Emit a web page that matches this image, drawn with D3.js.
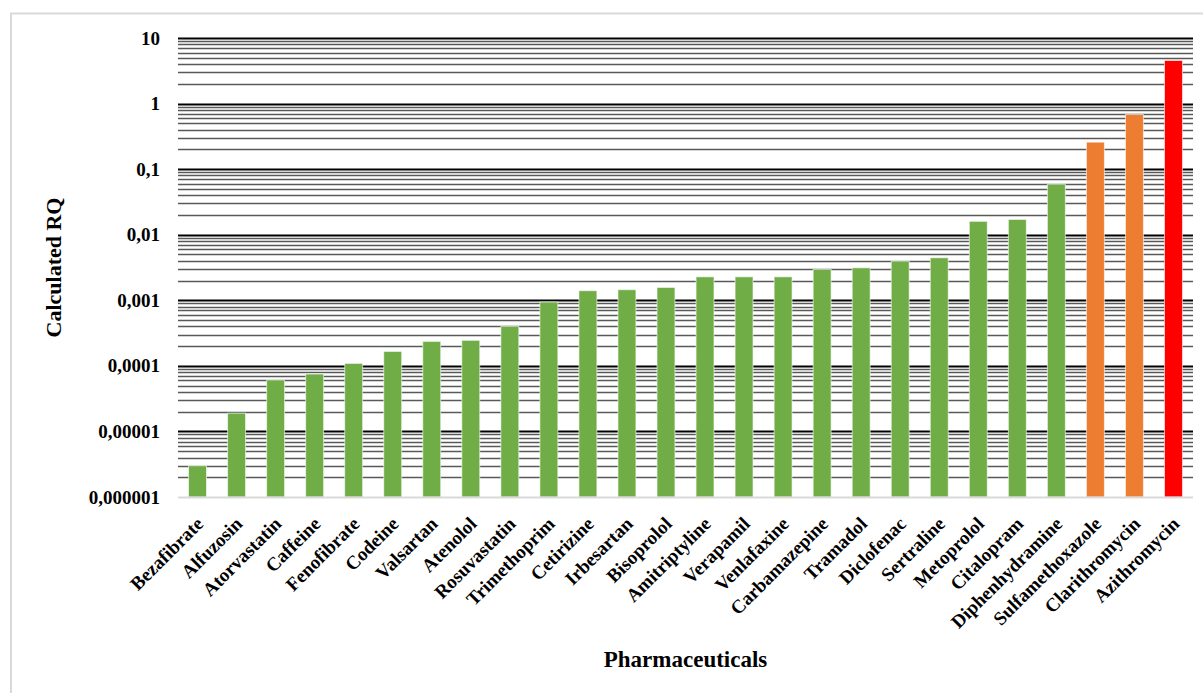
<!DOCTYPE html>
<html>
<head>
<meta charset="utf-8">
<script src="https://cdn.jsdelivr.net/npm/d3@7"></script>
<style>
  body { margin: 0; background: #fff; }
  text { font-family: "Liberation Serif", "Times New Roman", serif; font-weight: bold; fill: #000; }
</style>
</head>
<body>
<div id="chart"></div>
<script>
// drugs sorted by calculated RQ
let drugs = ["Bezafibrate", "Alfuzosin", "Atorvastatin", "Caffeine", "Fenofibrate", "Codeine",
    "Valsartan", "Atenolol", "Rosuvastatin", "Trimethoprim", "Cetirizine", "Irbesartan",
    "Bisoprolol", "Amitriptyline", "Verapamil", "Venlafaxine", "Carbamazepine", "Tramadol",
    "Diclofenac", "Sertraline", "Metoprolol", "Citalopram", "Diphenhydramine",
    "Sulfamethoxazole", "Clarithromycin", "Azithromycin"];
let rq = [0.000003, 0.000019, 0.000061, 0.000075, 0.000109, 0.000166,
    0.000236, 0.000245, 0.0004, 0.00094, 0.0014, 0.00145,
    0.00157, 0.00228, 0.00228, 0.00228, 0.00296, 0.00313,
    0.00396, 0.00445, 0.016, 0.0171, 0.059,
    0.258, 0.68, 4.54];
let riskLevel = ["low", "low", "low", "low", "low", "low",
    "low", "low", "low", "low", "low", "low",
    "low", "low", "low", "low", "low", "low",
    "low", "low", "low", "low", "low",
    "medium", "medium", "high"];
let yTicks = [0.000001, 0.00001, 0.0001, 0.001, 0.01, 0.1, 1, 10];
let yTickLabels = ["0,000001", "0,00001", "0,0001", "0,001", "0,01", "0,1", "1", "10"];

let width = 1203;
let height = 693;
let margins = {
    top: 38,
    right: 10,
    bot: 196,
    left: 178
};
let chartWidth = width - margins.left - margins.right;
let chartHeight = height - margins.top - margins.bot;

let colors = {
    low: "#70AD47",
    medium: "#ED7D31",
    high: "#FF0000"
};

let root = d3.select("#chart")
    .append("svg")
    .attr("width", width)
    .attr("height", height);

// outer frame
root.append("rect")
    .attr("x", 11)
    .attr("y", 13.5)
    .attr("width", width + 20)
    .attr("height", height + 20)
    .attr("fill", "none")
    .attr("stroke", "#d9d9d9")
    .attr("stroke-width", 2);

let svg = root.append("g")
    .attr("transform", "translate(" + margins.left + "," + margins.top + ")");

let xScale = d3.scaleBand()
    .domain(drugs)
    .range([0, chartWidth])
    .paddingInner(0.54)
    .paddingOuter(0.27);

let yScale = d3.scaleLog()
    .domain([0.000001, 10])
    .range([chartHeight, 0]);

// gridlines: minor ones for 2..9 in every decade, major ones at the powers of ten
let minor = [];
yTicks.slice(0, -1).forEach(function (t) {
    for (let k = 2; k <= 9; k++) minor.push(t * k);
});
svg.append("g")
    .selectAll("line")
    .data(minor)
    .join("line")
    .attr("x1", 0)
    .attr("x2", chartWidth)
    .attr("y1", d => Math.round(yScale(d)) + 0.5)
    .attr("y2", d => Math.round(yScale(d)) + 0.5)
    .attr("stroke", "#595959")
    .attr("stroke-width", 1.7);

svg.append("g")
    .selectAll("line")
    .data(yTicks.slice(1))
    .join("line")
    .attr("x1", 0)
    .attr("x2", chartWidth)
    .attr("y1", d => Math.round(yScale(d)) + 0.5)
    .attr("y2", d => Math.round(yScale(d)) + 0.5)
    .attr("stroke", "#000")
    .attr("stroke-width", 2);

// bars
svg.append("g")
    .selectAll("rect")
    .data(drugs)
    .join("rect")
    .attr("x", d => xScale(d))
    .attr("width", xScale.bandwidth())
    .attr("y", (d, i) => yScale(rq[i]))
    .attr("height", (d, i) => chartHeight - yScale(rq[i]))
    .attr("fill", (d, i) => colors[riskLevel[i]])
    .attr("stroke", "#fff")
    .attr("stroke-opacity", 0.6)
    .attr("stroke-width", 1);

// x axis baseline
svg.append("line")
    .attr("x1", 0)
    .attr("x2", chartWidth)
    .attr("y1", chartHeight + 0.5)
    .attr("y2", chartHeight + 0.5)
    .attr("stroke", "#d9d9d9")
    .attr("stroke-width", 2);

// y axis labels
let yAxis = svg.append("g")
    .call(d3.axisLeft(yScale)
        .tickValues(yTicks)
        .tickFormat((d, i) => yTickLabels[i])
        .tickSize(0)
        .tickPadding(18));
yAxis.select(".domain").remove();
yAxis.selectAll("text")
    .attr("font-family", "Liberation Serif")
    .attr("font-weight", "bold")
    .attr("font-size", 19)
    .attr("fill", "#000");

// x axis labels
let xAxis = svg.append("g")
    .attr("transform", "translate(0," + chartHeight + ")")
    .call(d3.axisBottom(xScale).tickSize(0).tickPadding(0));
xAxis.select(".domain").remove();
xAxis.selectAll("text")
    .attr("font-family", "Liberation Serif")
    .attr("font-weight", "bold")
    .attr("font-size", 19)
    .attr("fill", "#000")
    .attr("dy", null)
    .attr("y", 0)
    .style("text-anchor", "end")
    .attr("transform", "translate(7,28) rotate(-45)");

// axis titles
svg.append("text")
    .attr("transform", "translate(" + (chartWidth / 2) + "," + (chartHeight + 170) + ")")
    .style("text-anchor", "middle")
    .attr("font-size", 23)
    .text("Pharmaceuticals");

svg.append("text")
    .attr("transform", "rotate(-90)")
    .attr("x", -(chartHeight / 2))
    .attr("y", -117)
    .style("text-anchor", "middle")
    .attr("font-size", 22)
    .text("Calculated RQ");
</script>
</body>
</html>
